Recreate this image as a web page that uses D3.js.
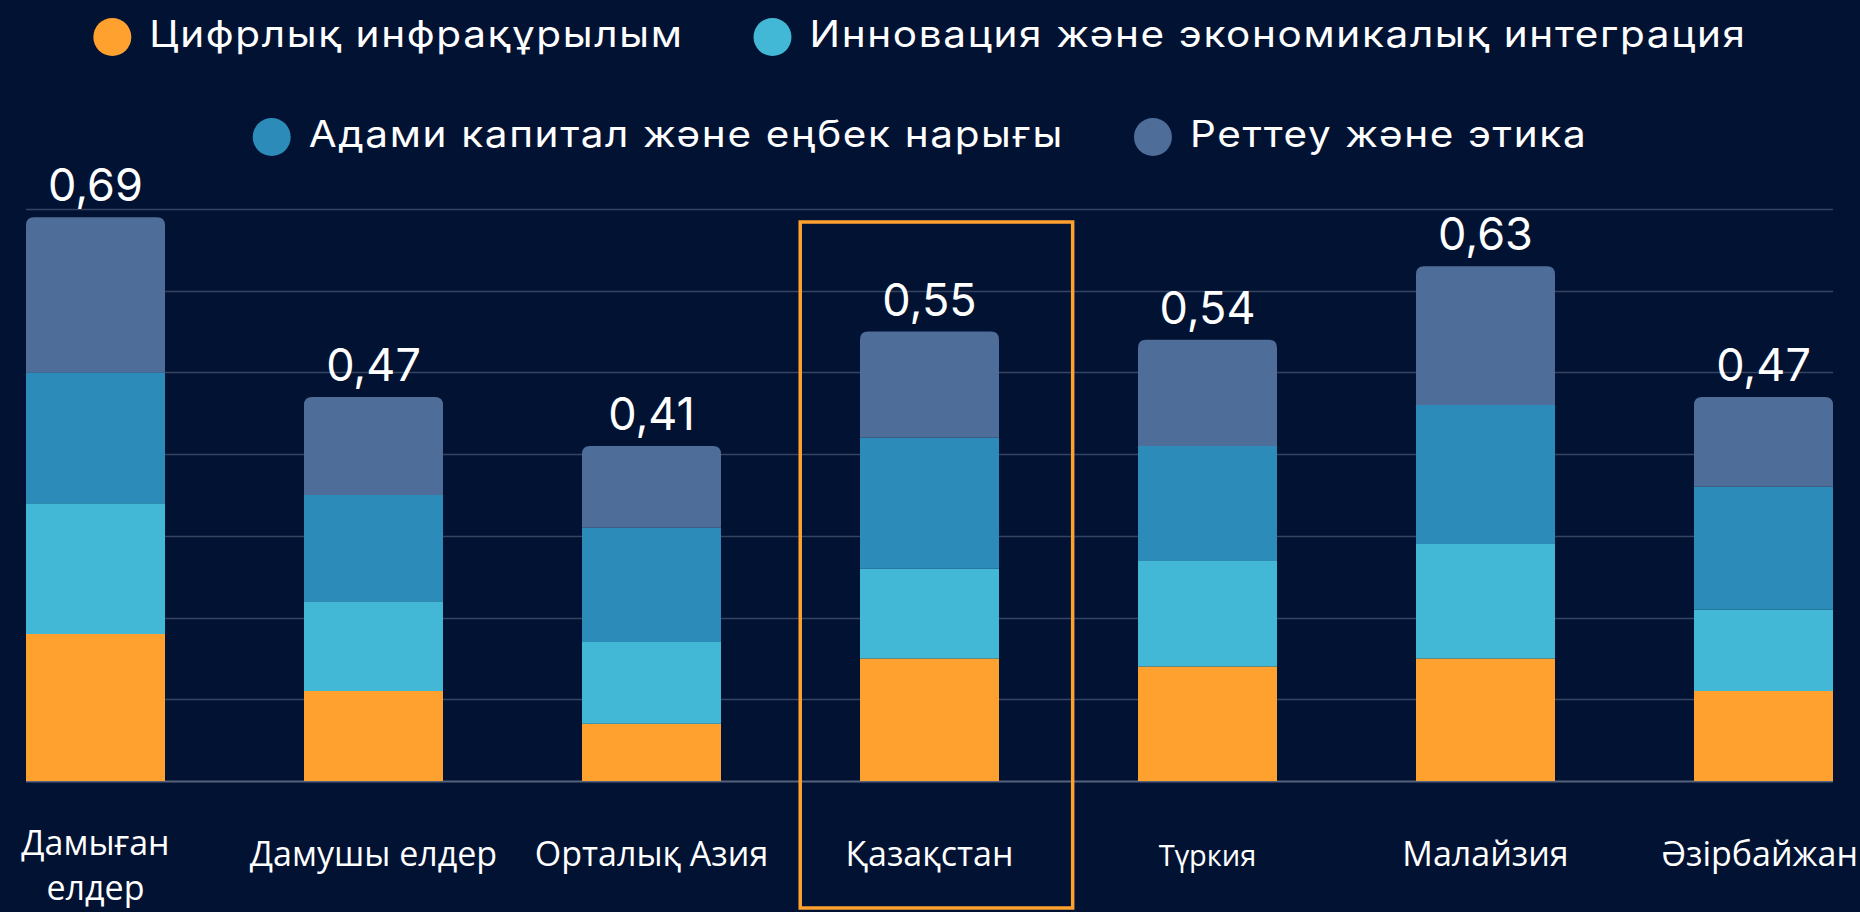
<!DOCTYPE html>
<html><head><meta charset="utf-8">
<script src="https://cdn.jsdelivr.net/npm/d3@7"></script>
<style>
html,body{margin:0;padding:0;background:#011233;overflow:hidden}
svg{display:block}
</style></head><body>
<svg id="chart" width="1860" height="912"></svg>
<script>
// ---- data ----
const categories = ["Дамыған елдер","Дамушы елдер","Орталық Азия","Қазақстан","Түркия","Малайзия","Әзірбайжан"];
const tickLabels = [["Дамыған","елдер"],["Дамушы елдер"],["Орталық Азия"],["Қазақстан"],["Түркия"],["Малайзия"],["Әзірбайжан"]];
const seriesNames = ["Цифрлық инфрақұрылым","Инновация және экономикалық интеграция","Адами капитал және еңбек нарығы","Реттеу және этика"];
const digitalInfra = [0.18,0.11,0.07,0.15,0.14,0.15,0.11];
const innovation   = [0.16,0.11,0.10,0.11,0.13,0.14,0.10];
const humanCapital = [0.16,0.13,0.14,0.16,0.14,0.17,0.15];
const regulation   = [0.19,0.12,0.10,0.13,0.13,0.17,0.11];
const totalLabels  = ["0,69","0,47","0,41","0,55","0,54","0,63","0,47"];
const yTicks = [0,0.1,0.2,0.3,0.4,0.5,0.6,0.7];
const highlighted = "Қазақстан";

// ---- styles ----
const colors = ["#FFA12F","#42B7D6","#2D8BBA","#4F6D99"];
const W = 1860, H = 912;
const svg = d3.select("#chart");
svg.append("rect").attr("width",W).attr("height",H).attr("fill","#011233");

const x = d3.scaleBand().domain(categories).range([26,1833]).paddingInner(0.5).paddingOuter(0);
const y = d3.scaleLinear().domain([0,0.7]).range([781,209]);

// gridlines
svg.append("g").selectAll("line").data(yTicks).join("line")
  .attr("x1",26).attr("x2",1833)
  .attr("y1",d=>Math.round(y(d))+0.5).attr("y2",d=>Math.round(y(d))+0.5)
  .attr("stroke",d=>d===0?"#56627c":"#36445f").attr("stroke-width",d=>d===0?2:1.3);

// stacks
const table = categories.map((c,i)=>({cat:c, s0:digitalInfra[i], s1:innovation[i], s2:humanCapital[i], s3:regulation[i]}));
const keys = ["s0","s1","s2","s3"];
const stacked = d3.stack().keys(keys)(table);
const r = 8;
function topRounded(x0,y0,w,h){
  return `M${x0},${y0+h}V${y0+r}Q${x0},${y0} ${x0+r},${y0}H${x0+w-r}Q${x0+w},${y0} ${x0+w},${y0+r}V${y0+h}Z`;
}
stacked.forEach((layer,li)=>{
  const g = svg.append("g").attr("fill",colors[li]);
  g.selectAll("path").data(layer).join("path")
    .attr("d",d=>{
      const x0 = x(d.data.cat), w = x.bandwidth();
      const y0 = y(d[1]), h = y(d[0]) - y(d[1]);
      if(li===keys.length-1) return topRounded(x0,y0,w,h);
      return `M${x0},${y0}h${w}v${h}h${-w}Z`;
    });
});

// total labels
svg.append("g").selectAll("text").data(categories).join("text")
  .attr("x",d=>x(d)+x.bandwidth()/2)
  .attr("y",(d,i)=>y(digitalInfra[i]+innovation[i]+humanCapital[i]+regulation[i]) - 16)
  .attr("text-anchor","middle")
  .attr("font-family","Inter, 'Noto Sans', sans-serif")
  .attr("font-size",45)
  .attr("fill","#ffffff")
  .text((d,i)=>totalLabels[i]);

// highlight box
const hx = x(highlighted) - (x.step()-x.bandwidth())*0.43;
svg.append("rect")
  .attr("x",hx).attr("y",y(0.7)+13)
  .attr("width",x.step()*0.98).attr("height",908 - (y(0.7)+13))
  .attr("fill","none").attr("stroke","#FFA12F").attr("stroke-width",3.5);

// x axis labels
const xl = svg.append("g");
categories.forEach((c,i)=>{
  const cx = x(c)+x.bandwidth()/2;
  const lines = tickLabels[i];
  const fs = c==="Түркия"?29:34;
  const base = lines.length>1?855:866;
  lines.forEach((ln,j)=>{
    const t = xl.append("text")
      .attr("x",cx).attr("y",base + j*45)
      .attr("text-anchor","middle")
      .attr("font-family","'Open Sans', 'Noto Sans', sans-serif")
      .attr("font-size", fs)
      .attr("fill","#ffffff").text(ln);
    // keep inside the picture
    const bb = t.node().getBBox();
    const over = bb.x + bb.width - (W - 2);
    if(over>0) t.attr("x",cx-over);
  });
});

// legend
const leg = svg.append("g");
const legendFont = 37, circleR = 19, gapCircleText = 18, gapItems = 70, sx = 1.095;
const items = seriesNames.map((n,i)=>{
  const g = leg.append("g");
  g.append("circle").attr("r",circleR).attr("cx",circleR).attr("cy",-10).attr("fill",colors[i]);
  const t = g.append("text")
    .attr("transform",`translate(${circleR*2+gapCircleText},0) scale(${sx},1)`)
    .attr("font-family","Inter, 'Noto Sans', sans-serif").attr("font-size",legendFont)
    .attr("letter-spacing",1.5)
    .attr("fill","#ffffff").text(n);
  return {g, w: circleR*2+gapCircleText+t.node().getBBox().width*sx};
});
const rowsFinal = [items.slice(0,2), items.slice(2,4)];
rowsFinal.forEach((row,ri)=>{
  const total = d3.sum(row,d=>d.w)+gapItems*(row.length-1);
  let cx = 920 - total/2;
  row.forEach(it=>{
    it.g.attr("transform",`translate(${cx},${47+ri*100})`);
    cx += it.w+gapItems;
  });
});
</script>
</body></html>
